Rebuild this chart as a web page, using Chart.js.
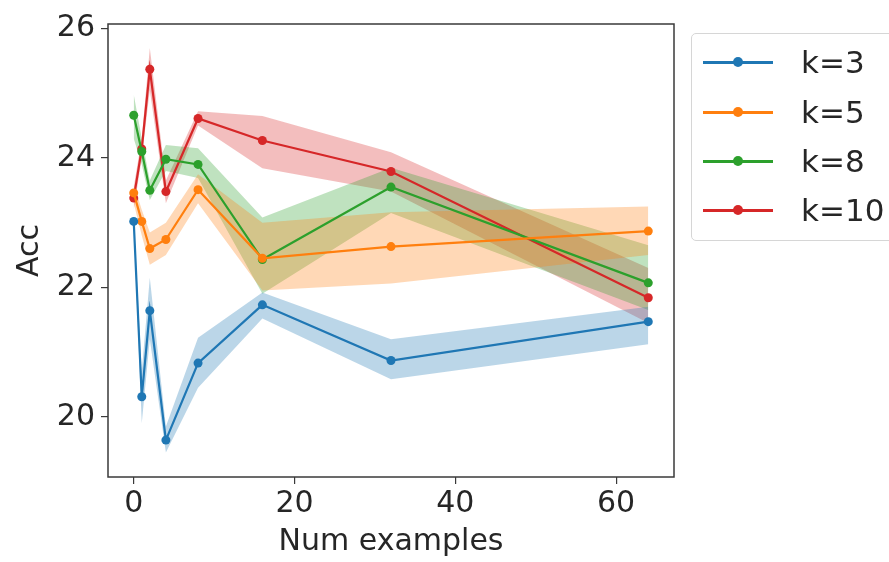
<!DOCTYPE html>
<html>
<head>
<meta charset="utf-8">
<script src="https://cdn.jsdelivr.net/npm/chart.js@4.4.1/dist/chart.umd.min.js"></script>
<style>
  html, body { margin: 0; padding: 0; background: #fff; overflow: hidden; }
  #wrap { position: relative; width: 889px; height: 562px; }
  #legend {
    position: absolute; left: 691px; top: 33px; width: 215px; height: 208px;
    border: 1px solid #d6d6d6; border-radius: 5px; box-sizing: border-box;
    font-family: "DejaVu Sans", sans-serif; font-size: 31px; color: #262626;
  }
  .row { position: absolute; left: 0; height: 40px; }
  .sw { position: absolute; left: 11px; top: 18px; width: 70px; height: 2.5px; }
  .dot { position: absolute; left: 41px; top: 14px; width: 10px; height: 10px; border-radius: 50%; }
  .lbl { position: absolute; left: 109px; top: 0; line-height: 38px; }
</style>
</head>
<body>
<div id="wrap">
  <canvas id="c" width="889" height="562"></canvas>
  <div id="legend"></div>
</div>
<script>
  const xs = [0, 1, 2, 4, 8, 16, 32, 64];
  const seriesNames = ["k=3", "k=5", "k=8", "k=10"];
  const colors = ["#1f77b4", "#ff7f0e", "#2ca02c", "#d62728"];
  const bandColors = [
    "rgba(31,119,180,0.3)",
    "rgba(255,127,14,0.3)",
    "rgba(44,160,44,0.3)",
    "rgba(214,39,40,0.3)",
  ];

  const k3 = [23.02, 20.31, 21.64, 19.64, 20.83, 21.73, 20.87, 21.47];
  const k5 = [23.46, 23.02, 22.6, 22.74, 23.51, 22.45, 22.63, 22.87];
  const k8 = [24.66, 24.1, 23.5, 23.98, 23.9, 22.43, 23.55, 22.07];
  const k10 = [23.38, 24.14, 25.37, 23.48, 24.61, 24.27, 23.79, 21.84];

  const k3Lo = [22.95, 19.9, 21.2, 19.45, 20.45, 21.52, 20.58, 21.12];
  const k3Hi = [23.08, 20.7, 22.15, 19.85, 21.22, 21.92, 21.2, 21.7];
  const k5Lo = [23.3, 22.8, 22.35, 22.5, 23.3, 21.95, 22.06, 22.5];
  const k5Hi = [23.6, 23.2, 22.85, 23.0, 23.75, 23.0, 23.16, 23.25];
  const k8Lo = [24.3, 23.9, 23.35, 23.8, 23.69, 21.9, 23.15, 21.65];
  const k8Hi = [24.98, 24.3, 23.65, 24.2, 24.15, 23.08, 23.85, 22.65];
  const k10Lo = [23.2, 24.0, 25.05, 23.3, 24.5, 23.84, 23.48, 21.45];
  const k10Hi = [23.55, 24.3, 25.7, 23.65, 24.72, 24.65, 24.09, 22.3];

  const xTicks = [0, 20, 40, 60];
  const yTicks = [20, 22, 24, 26];

  const means = [k3, k5, k8, k10];
  const los = [k3Lo, k5Lo, k8Lo, k10Lo];
  const his = [k3Hi, k5Hi, k8Hi, k10Hi];

  const pts = (arr) => xs.map((x, i) => ({ x, y: arr[i] }));

  const datasets = [];
  means.forEach((m, i) => {
    datasets.push({
      label: seriesNames[i],
      data: pts(m),
      borderColor: colors[i],
      backgroundColor: colors[i],
      borderWidth: 2.2,
      pointRadius: 4.5,
      pointBorderWidth: 0,
      fill: false,
      tension: 0,
      order: 0,
    });
  });
  los.forEach((lo, i) => {
    datasets.push({
      label: "lo",
      data: pts(lo),
      borderWidth: 0,
      pointRadius: 0,
      fill: false,
      order: 1,
    });
    datasets.push({
      label: "hi",
      data: pts(his[i]),
      borderWidth: 0,
      pointRadius: 0,
      backgroundColor: bandColors[i],
      fill: "-1",
      order: 1,
    });
  });

  const frame = {
    id: "frame",
    afterDatasetsDraw(chart) {
      const a = chart.chartArea;
      const ctx = chart.ctx;
      ctx.save();
      ctx.strokeStyle = "#3a3a3a";
      ctx.lineWidth = 1.5;
      ctx.strokeRect(a.left, a.top, a.right - a.left, a.bottom - a.top);
      ctx.restore();
    },
  };

  const font = { family: "'DejaVu Sans', sans-serif", size: 30 };

  new Chart(document.getElementById("c"), {
    type: "line",
    data: { datasets },
    plugins: [frame],
    options: {
      responsive: false,
      animation: false,
      layout: { padding: { top: 16, right: 215, left: 0, bottom: 0 } },
      plugins: { legend: { display: false }, tooltip: { enabled: false } },
      scales: {
        x: {
          type: "linear",
          min: -3.2,
          max: 67.2,
          afterBuildTicks: (s) => { s.ticks = xTicks.map((v) => ({ value: v })); },
          afterFit: (s) => { s.height = 85; },
          ticks: { color: "#262626", font, padding: 2, maxRotation: 0 },
          grid: { drawOnChartArea: false, drawTicks: true, tickLength: 7, color: "#3a3a3a", lineWidth: 1.2 },
          border: { display: false },
          title: { display: true, text: "Num examples", color: "#262626", font, padding: { top: 0, bottom: 2 } },
        },
        y: {
          min: 19.07,
          max: 26.07,
          afterBuildTicks: (s) => { s.ticks = yTicks.map((v) => ({ value: v })); },
          afterFit: (s) => { s.width = 108; },
          ticks: { color: "#262626", font, padding: 6 },
          grid: { drawOnChartArea: false, drawTicks: true, tickLength: 7, color: "#3a3a3a", lineWidth: 1.2 },
          border: { display: false },
          title: { display: true, text: "Acc", color: "#262626", font, padding: { top: 12, bottom: 0 } },
        },
      },
    },
  });

  const legend = document.getElementById("legend");
  const rowTops = [9, 59, 108, 157];
  seriesNames.forEach((name, i) => {
    const row = document.createElement("div");
    row.className = "row";
    row.style.top = rowTops[i] + "px";
    row.innerHTML =
      `<div class="sw" style="background:${colors[i]}"></div>` +
      `<div class="dot" style="background:${colors[i]}"></div>` +
      `<div class="lbl">${name}</div>`;
    legend.appendChild(row);
  });
</script>
</body>
</html>
